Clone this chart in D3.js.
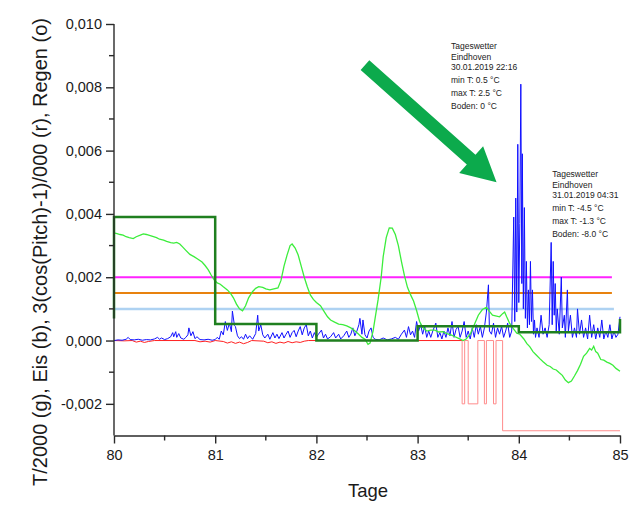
<!DOCTYPE html>
<html>
<head>
<meta charset="utf-8">
<script src="https://cdn.jsdelivr.net/npm/d3@7"></script>
<style>
    body { margin: 0; background: #fff; }
    svg text { font-family: Arial, "Liberation Sans", sans-serif; }
</style>
</head>
<body>
<div id="chart"></div>
<script>
// axis ticks
const xTicks = [80, 81, 82, 83, 84, 85];
const xMinorTicks = [80.5, 81.5, 82.5, 83.5, 84.5];
const yTicks = [-0.002, 0, 0.002, 0.004, 0.006, 0.008, 0.010];
const yMinorTicks = [-0.001, 0.001, 0.003, 0.005, 0.007, 0.009];

// daily steps (dark green)
const stepDays = [80, 80, 81, 82, 83, 84, 85];
const stepValues = [0.0007, 0.0039, 0.00052, 0.0, 0.00045, 0.00026, 0.00068];

// horizontal reference levels: magenta, Regen (orange), light blue
const refLevels = [0.002, 0.0015, 0.001];
const refEnds = [84.92, 84.92, 84.94];

// T/2000 (light green)
const tempDays = [80.00, 80.03, 80.06, 80.09, 80.12, 80.15, 80.19, 80.22, 80.26, 80.29, 80.32, 80.35, 80.39, 80.42, 80.45, 80.49, 80.52, 80.56, 80.59, 80.62, 80.65, 80.68, 80.71, 80.75, 80.79, 80.83, 80.87, 80.90, 80.93, 80.96, 80.99,
    81.02, 81.05, 81.08, 81.12, 81.15, 81.18, 81.21, 81.24, 81.27, 81.30, 81.33, 81.37, 81.40, 81.43, 81.47, 81.50, 81.54, 81.58, 81.62, 81.65, 81.68, 81.71, 81.74, 81.76, 81.79, 81.82, 81.85, 81.88, 81.91, 81.94, 81.97,
    82.00, 82.04, 82.08, 82.11, 82.14, 82.18, 82.22, 82.26, 82.30, 82.34, 82.37, 82.41, 82.45, 82.48, 82.51, 82.53, 82.56, 82.58, 82.61, 82.64, 82.66, 82.69, 82.72, 82.75, 82.78, 82.81, 82.84, 82.87, 82.90, 82.93, 82.96, 82.99,
    83.02, 83.05, 83.09, 83.13, 83.17, 83.21, 83.25, 83.29, 83.33, 83.37, 83.41, 83.45, 83.48, 83.52, 83.56, 83.60, 83.64, 83.68, 83.71, 83.74, 83.77, 83.81, 83.84, 83.86, 83.88, 83.91, 83.94, 83.98,
    84.01, 84.05, 84.08, 84.11, 84.14, 84.17, 84.21, 84.24, 84.28, 84.31, 84.34, 84.37, 84.40, 84.43, 84.46, 84.49, 84.52, 84.55, 84.58, 84.61, 84.64, 84.67, 84.70, 84.72, 84.74, 84.76, 84.78, 84.81, 84.84, 84.87, 84.90, 84.93, 84.96, 85.00];
const tempValues = [0.00340, 0.00338, 0.00335, 0.00333, 0.00328, 0.00325, 0.00322, 0.00328, 0.00333, 0.00337, 0.00335, 0.00332, 0.00328, 0.00325, 0.00320, 0.00317, 0.00313, 0.00309, 0.00308, 0.00310, 0.00305, 0.00295, 0.00285, 0.00272, 0.00265, 0.00257, 0.00248, 0.00237, 0.00224, 0.00207, 0.00192,
    0.00182, 0.00178, 0.00170, 0.00160, 0.00150, 0.00135, 0.00115, 0.00100, 0.00094, 0.00110, 0.00135, 0.00155, 0.00165, 0.00170, 0.00168, 0.00163, 0.00160, 0.00163, 0.00166, 0.00190, 0.00235, 0.00270, 0.00300, 0.00305, 0.00292, 0.00270, 0.00235, 0.00200, 0.00170, 0.00144, 0.00130,
    0.00120, 0.00110, 0.00090, 0.00075, 0.00065, 0.00058, 0.00052, 0.00050, 0.00046, 0.00040, 0.00033, 0.00022, 0.00010, 0.00004, -0.00012, -0.00008, 0.00030, 0.00070, 0.00130, 0.00200, 0.00265, 0.00325, 0.00356, 0.00355, 0.00335, 0.00300, 0.00250, 0.00205, 0.00168, 0.00145, 0.00125, 0.00095,
    0.00060, 0.00042, 0.00030, 0.00033, 0.00033, 0.00027, 0.00028, 0.00022, 0.00018, 0.00012, 0.00006, 0.00000, 0.00005, 0.00020, 0.00050, 0.00080, 0.00098, 0.00105, 0.00092, 0.00080, 0.00078, 0.00075, 0.00085, 0.00090, 0.00075, 0.00054, 0.00040, 0.00023,
    0.00020, 0.00005, -0.00010, -0.00020, -0.00035, -0.00045, -0.00058, -0.00067, -0.00078, -0.00082, -0.00090, -0.00093, -0.00102, -0.00110, -0.00125, -0.00133, -0.00128, -0.00112, -0.00095, -0.00075, -0.00050, -0.00040, -0.00025, -0.00030, -0.00018, -0.00035, -0.00040, -0.00060, -0.00062, -0.00068, -0.00072, -0.00078, -0.00088, -0.00097];

// Eis (blue) [day, value]
const eisData = [
    [80.00, 0.00000], [80.04, 0.00002], [80.08, 0.00001], [80.12, 0.00004], [80.14, 0.00010], [80.16, 0.00003], [80.20, 0.00002], [80.24, 0.00004], [80.28, 0.00001], [80.32, 0.00003],
    [80.36, 0.00002], [80.40, 0.00005], [80.43, 0.00010], [80.45, 0.00004], [80.47, 0.00008], [80.50, 0.00003], [80.53, 0.00006], [80.56, 0.00012], [80.58, 0.00025], [80.59, 0.00012],
    [80.61, 0.00028], [80.62, 0.00010], [80.64, 0.00022], [80.66, 0.00008], [80.69, 0.00004], [80.71, 0.00010], [80.73, 0.00018], [80.74, 0.00040], [80.76, 0.00015], [80.78, 0.00028],
    [80.80, 0.00006], [80.82, 0.00012], [80.85, 0.00003], [80.89, 0.00002], [80.93, 0.00004], [80.97, 0.00001],
    [81.00, 0.00003], [81.02, 0.00010], [81.04, 0.00004], [81.06, 0.00030], [81.08, 0.00018], [81.10, 0.00060], [81.12, 0.00032], [81.14, 0.00055], [81.16, 0.00028], [81.17, 0.00093],
    [81.19, 0.00048], [81.20, 0.00044], [81.22, 0.00015], [81.24, 0.00006], [81.26, 0.00012], [81.28, 0.00004], [81.30, 0.00020], [81.32, 0.00006], [81.34, 0.00015], [81.37, 0.00004],
    [81.40, 0.00022], [81.42, 0.00080], [81.43, 0.00030], [81.45, 0.00050], [81.47, 0.00018], [81.49, 0.00008], [81.52, 0.00020], [81.54, 0.00004], [81.57, 0.00025], [81.59, 0.00008],
    [81.61, 0.00020], [81.63, 0.00006], [81.66, 0.00025], [81.68, 0.00008], [81.70, 0.00020], [81.72, 0.00030], [81.74, 0.00010], [81.76, 0.00025], [81.78, 0.00032], [81.80, 0.00012],
    [81.82, 0.00030], [81.84, 0.00044], [81.86, 0.00018], [81.88, 0.00040], [81.90, 0.00050], [81.92, 0.00015], [81.94, 0.00030], [81.96, 0.00008], [81.98, 0.00025],
    [82.00, 0.00010], [82.02, 0.00020], [82.05, 0.00033], [82.07, 0.00008], [82.09, 0.00020], [82.11, 0.00005], [82.14, 0.00012], [82.17, 0.00025], [82.19, 0.00008], [82.22, 0.00020],
    [82.24, 0.00005], [82.27, 0.00015], [82.30, 0.00030], [82.32, 0.00010], [82.34, 0.00020], [82.36, 0.00040], [82.38, 0.00015], [82.40, 0.00030], [82.42, 0.00050], [82.43, 0.00070],
    [82.45, 0.00020], [82.46, 0.00065], [82.48, 0.00018], [82.50, 0.00008], [82.52, 0.00030], [82.54, 0.00040], [82.56, 0.00010], [82.58, 0.00004], [82.62, 0.00002], [82.66, 0.00008],
    [82.70, 0.00002], [82.74, 0.00005], [82.78, 0.00010], [82.81, 0.00004], [82.84, 0.00020], [82.87, 0.00033], [82.89, 0.00010], [82.91, 0.00044], [82.93, 0.00018], [82.95, 0.00030],
    [82.97, 0.00010], [82.99, 0.00060],
    [83.01, 0.00030], [83.03, 0.00050], [83.05, 0.00020], [83.07, 0.00045], [83.09, 0.00010], [83.11, 0.00030], [83.13, 0.00010], [83.15, 0.00030], [83.18, 0.00055], [83.20, 0.00010],
    [83.22, 0.00025], [83.24, 0.00005], [83.26, 0.00030], [83.28, 0.00010], [83.30, 0.00040], [83.32, 0.00015], [83.34, 0.00060], [83.36, 0.00010], [83.38, 0.00035], [83.40, 0.00045],
    [83.42, 0.00010], [83.44, 0.00030], [83.46, 0.00060], [83.48, 0.00010], [83.50, 0.00030], [83.52, 0.00005], [83.54, 0.00040], [83.56, 0.00010], [83.58, 0.00050], [83.60, 0.00020],
    [83.62, 0.00045], [83.64, 0.00010], [83.66, 0.00040], [83.68, 0.00090], [83.70, 0.00176], [83.71, 0.00030], [83.73, 0.00020], [83.75, 0.00055], [83.77, 0.00010], [83.79, 0.00040],
    [83.81, 0.00020], [83.83, 0.00045], [83.85, 0.00010], [83.87, 0.00030], [83.89, 0.00055], [83.91, 0.00010], [83.93, 0.00030],
    [83.95, 0.00390], [83.96, 0.00060], [83.97, 0.00450], [83.98, 0.00090], [83.99, 0.00620], [84.00, 0.00120], [84.01, 0.00370], [84.02, 0.00810], [84.03, 0.00180], [84.035, 0.00590],
    [84.045, 0.00100], [84.055, 0.00420], [84.065, 0.00070], [84.075, 0.00250], [84.085, 0.00040], [84.095, 0.00160], [84.105, 0.00050], [84.115, 0.00250], [84.125, 0.00060], [84.135, 0.00160],
    [84.145, 0.00020], [84.155, 0.00065], [84.165, 0.00010], [84.18, 0.00040], [84.20, 0.00010], [84.22, 0.00080], [84.24, 0.00020], [84.26, 0.00040], [84.28, 0.00010], [84.30, 0.00050],
    [84.32, 0.00310], [84.33, 0.00050], [84.34, 0.00250], [84.35, 0.00080], [84.36, 0.00180], [84.37, 0.00030], [84.38, 0.00100], [84.40, 0.00020], [84.42, 0.00200], [84.43, 0.00040],
    [84.45, 0.00080], [84.46, 0.00010], [84.48, 0.00160], [84.49, 0.00030], [84.51, 0.00080], [84.53, 0.00010], [84.55, 0.00040], [84.57, 0.00010], [84.58, 0.00100], [84.60, 0.00020],
    [84.62, 0.00065], [84.64, 0.00010], [84.66, 0.00040], [84.68, 0.00005], [84.70, 0.00080], [84.72, 0.00010], [84.74, 0.00050], [84.76, 0.00005], [84.78, 0.00040], [84.80, 0.00010],
    [84.82, 0.00065], [84.84, 0.00005], [84.86, 0.00030], [84.88, 0.00010], [84.90, 0.00050], [84.92, 0.00005], [84.94, 0.00030], [84.96, 0.00010], [84.98, 0.00020], [85.00, 0.00075]
];

// 3(cos(Pitch)-1)/000 (red) [day, value]
const pitchNoise = [
    [80.00, 0.00000], [80.10, -0.00001], [80.18, 0.00000], [80.22, -0.00005], [80.26, -0.00002], [80.30, -0.00006], [80.34, -0.00003], [80.40, 0.00000], [80.80, 0.00000], [80.85, -0.00004],
    [80.90, -0.00002], [80.95, -0.00005], [81.00, 0.00000], [81.08, -0.00003], [81.12, -0.00008], [81.16, -0.00004], [81.20, -0.00009], [81.24, -0.00005], [81.28, -0.00010], [81.32, -0.00006],
    [81.36, 0.00000], [81.48, -0.00002], [81.52, -0.00007], [81.56, -0.00004], [81.60, -0.00009], [81.64, -0.00005], [81.68, -0.00008], [81.72, -0.00003], [81.76, -0.00007], [81.80, -0.00004],
    [81.84, -0.00006], [81.88, -0.00002], [81.92, 0.00000], [83.44, 0.00000]
];
const pitchSteps = [
    [83.44, 0], [83.44, -0.002], [83.465, -0.002], [83.465, 0], [83.50, 0], [83.50, -0.002], [83.595, -0.002], [83.595, 0],
    [83.66, 0], [83.66, -0.002], [83.68, -0.002], [83.68, 0], [83.75, 0], [83.75, -0.002], [83.775, -0.002], [83.775, 0],
    [83.84, 0], [83.84, -0.00285], [85.00, -0.00285]
];

// weather notes
const noteDays = [83.33, 84.33];
const noteValues = [0.00922, 0.00517];
const noteLines = [
    ["Tageswetter", "Eindhoven", "30.01.2019 22:16", "min T: 0.5 °C", "max T: 2.5 °C", "Boden: 0 °C"],
    ["Tageswetter", "Eindhoven", "31.01.2019 04:31", "min T: -4.5 °C", "max T: -1.3 °C", "Boden: -8.0 °C"]
];

// arrow from / to, in data units
const arrowFrom = [82.48, 0.0087];
const arrowTo = [83.78, 0.0050];

const W = 641, H = 506;
const svg = d3.select("#chart").append("svg")
    .attr("width", W)
    .attr("height", H);

const x = d3.scaleLinear().domain([80, 85]).range([114, 620]);
const y = d3.scaleLinear().domain([-0.003, 0.010]).range([435.5, 24]);

const de = d3.formatLocale({ decimal: ",", thousands: ".", grouping: [3], currency: ["", ""], minus: "-" });
const fmt = de.format(".3f");

// reference lines
const refColors = ["#ff22ff", "#e8820e", "#aed2f2"];
const refWidths = [2, 2, 2.5];
refLevels.forEach((v, i) => {
    svg.append("line")
        .attr("x1", x(80)).attr("x2", x(refEnds[i]))
        .attr("y1", y(v)).attr("y2", y(v))
        .attr("stroke", refColors[i])
        .attr("stroke-width", refWidths[i]);
});

const line = d3.line().x(d => x(d[0])).y(d => y(d[1]));

// red
svg.append("path").datum(pitchNoise)
    .attr("d", line).attr("fill", "none")
    .attr("stroke", "#ff2020").attr("stroke-width", 1);
svg.append("path").datum(pitchSteps)
    .attr("d", line).attr("fill", "none")
    .attr("stroke", "#ff8c8c").attr("stroke-width", 1);

// blue
svg.append("path").datum(eisData)
    .attr("d", line).attr("fill", "none")
    .attr("stroke", "#1010ff").attr("stroke-width", 1)
    .attr("stroke-linejoin", "round");

// light green temperature
const tempData = tempDays.map((d, i) => [d, tempValues[i]]);
svg.append("path").datum(tempData)
    .attr("d", line).attr("fill", "none")
    .attr("stroke", "#3ced3c").attr("stroke-width", 1.3);

// dark green steps
const stepData = stepDays.map((d, i) => [d, stepValues[i]]);
svg.append("path").datum(stepData)
    .attr("d", d3.line().x(d => x(d[0])).y(d => y(d[1])).curve(d3.curveStepAfter))
    .attr("fill", "none")
    .attr("stroke", "#1f7f1f").attr("stroke-width", 2.5);

// axes
const xAxis = svg.append("g")
    .attr("transform", `translate(0,${y(-0.003)})`)
    .call(d3.axisBottom(x).tickValues(xTicks).tickFormat(d3.format("d")).tickSize(8).tickSizeOuter(0).tickPadding(6));
xAxis.append("g").selectAll("line").data(xMinorTicks).enter().append("line")
    .attr("x1", d => x(d)).attr("x2", d => x(d)).attr("y1", 0).attr("y2", 5);

const yAxis = svg.append("g")
    .attr("transform", `translate(${x(80)},0)`)
    .call(d3.axisLeft(y).tickValues(yTicks).tickFormat(fmt).tickSize(8).tickSizeOuter(0).tickPadding(4));
yAxis.append("g").selectAll("line").data(yMinorTicks).enter().append("line")
    .attr("x1", 0).attr("x2", -5).attr("y1", d => y(d)).attr("y2", d => y(d));

[xAxis, yAxis].forEach(g => {
    g.selectAll("path, line").attr("stroke", "#2a2a2a").attr("stroke-width", 1.4);
    g.selectAll("text").attr("fill", "#1a1a1a").style("font-size", "14.5px")
        .style("font-family", "Arial, 'Liberation Sans', sans-serif");
});
yAxis.select(".domain").attr("d", `M0,${y(0.010)}V${y(-0.003)}`);

// axis titles
svg.append("text")
    .attr("x", 368).attr("y", 497)
    .attr("text-anchor", "middle")
    .style("font-size", "18.5px")
    .attr("fill", "#1a1a1a")
    .text("Tage");

svg.append("text")
    .attr("transform", "translate(47,252) rotate(-90)")
    .attr("text-anchor", "middle")
    .style("font-size", "20px")
    .attr("fill", "#1a1a1a")
    .text("T/2000 (g), Eis (b), 3(cos(Pitch)-1)/000 (r), Regen (o)");

// notes
const lineOffsets = [0, 11, 21.5, 34.5, 47.5, 60.5];
noteLines.forEach((lines, i) => {
    const t = svg.append("text")
        .attr("x", x(noteDays[i]))
        .attr("y", y(noteValues[i]))
        .style("font-size", "8.5px")
        .attr("fill", "#222");
    lines.forEach((s, j) => {
        t.append("tspan")
            .attr("x", x(noteDays[i]))
            .attr("y", y(noteValues[i]) + lineOffsets[j])
            .text(s);
    });
});

// big green arrow
const ax0 = x(arrowFrom[0]), ay0 = y(arrowFrom[1]);
const ax1 = x(arrowTo[0]), ay1 = y(arrowTo[1]);
const len = Math.hypot(ax1 - ax0, ay1 - ay0);
const ux = (ax1 - ax0) / len, uy = (ay1 - ay0) / len;
const px = -uy, py = ux;
const shaftW = 6.5, headW = 18, headL = 34;
const bx = ax1 - ux * headL, by = ay1 - uy * headL;
const arrowPts = [
    [ax0 + px * shaftW, ay0 + py * shaftW],
    [bx + px * shaftW, by + py * shaftW],
    [bx + px * headW, by + py * headW],
    [ax1, ay1],
    [bx - px * headW, by - py * headW],
    [bx - px * shaftW, by - py * shaftW],
    [ax0 - px * shaftW, ay0 - py * shaftW]
];
svg.append("path")
    .attr("d", d3.line()(arrowPts) + "Z")
    .attr("fill", "#0caa4c");
</script>
</body>
</html>
